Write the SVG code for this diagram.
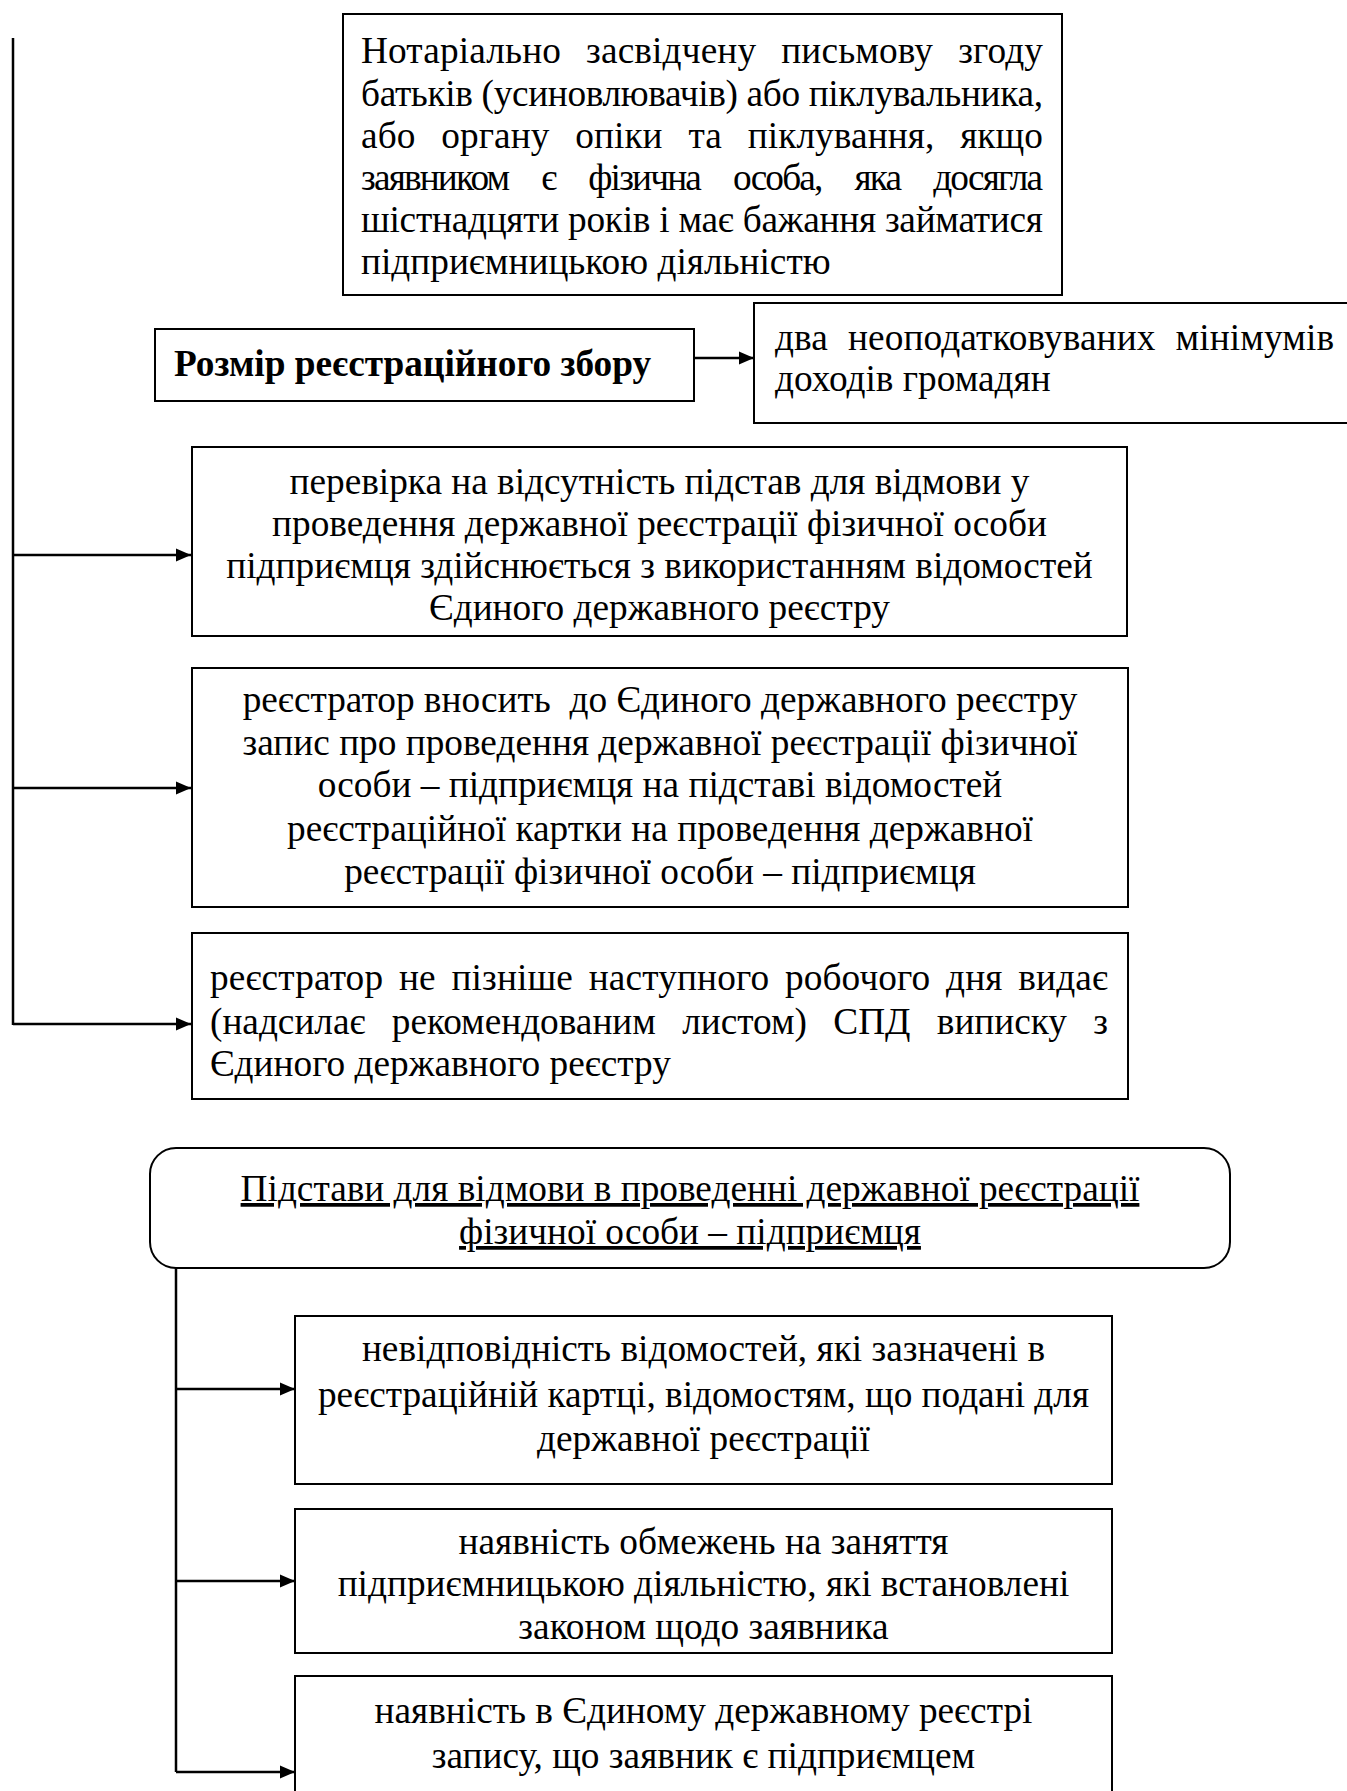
<svg xmlns="http://www.w3.org/2000/svg" width="1347" height="1791" viewBox="0 0 1347 1791">
<style>
.box{fill:#fff;stroke:#000;stroke-width:2}
.t{font-family:"Liberation Serif","Times New Roman",serif;font-size:37.3px;fill:#000}
.c{text-anchor:middle}
.b{font-weight:bold}
.u{text-decoration:underline}
.ln{fill:none;stroke:#000;stroke-width:2.5}
</style>
<defs>
<marker id="ah" markerUnits="userSpaceOnUse" markerWidth="16" markerHeight="14" refX="15" refY="7" orient="auto">
<path d="M0,0.5 L15,7 L0,13.5 Z" fill="#000"/>
</marker>
</defs>
<rect width="1347" height="1791" fill="#fff"/>
<g id="connectors">
<path class="ln" d="M13,38 V1025"/>
<path class="ln" d="M13,555 H191" marker-end="url(#ah)"/>
<path class="ln" d="M13,788 H191" marker-end="url(#ah)"/>
<path class="ln" d="M13,1024 H191" marker-end="url(#ah)"/>
<path class="ln" d="M694,358 H754" marker-end="url(#ah)"/>
<path class="ln" d="M176,1268 V1772"/>
<path class="ln" d="M176,1389 H295" marker-end="url(#ah)"/>
<path class="ln" d="M176,1581 H295" marker-end="url(#ah)"/>
<path class="ln" d="M176,1772 H295" marker-end="url(#ah)"/>
</g>
<g id="node-consent">
<rect class="box" x="343" y="14" width="719" height="281"/>
<text class="t" x="361" y="63" word-spacing="15.6" textLength="682" lengthAdjust="spacing">Нотаріально засвідчену письмову згоду</text>
<text class="t" x="361" y="106" textLength="682" lengthAdjust="spacing">батьків (усиновлювачів) або піклувальника,</text>
<text class="t" x="361" y="148" word-spacing="16.4" textLength="682" lengthAdjust="spacing">або органу опіки та піклування, якщо</text>
<text class="t" x="361" y="190" word-spacing="25.4" textLength="682" lengthAdjust="spacing">заявником є фізична особа, яка досягла</text>
<text class="t" x="361" y="232" textLength="682" lengthAdjust="spacing">шістнадцяти років і має бажання займатися</text>
<text class="t" x="361" y="274">підприємницькою діяльністю</text>
</g>
<g id="node-fee">
<rect class="box" x="155" y="329" width="539" height="72"/>
<text class="t b" x="174" y="376">Розмір реєстраційного збору</text>
</g>
<g id="node-fee-value">
<rect class="box" x="754" y="303" width="600" height="120"/>
<text class="t" x="775" y="350" word-spacing="10.5" textLength="559" lengthAdjust="spacing">два неоподатковуваних мінімумів</text>
<text class="t" x="775" y="391">доходів громадян</text>
</g>
<g id="node-check">
<rect class="box" x="192" y="447" width="935" height="189"/>
<text class="t c" x="659.5" y="494">перевірка на відсутність підстав для відмови у</text>
<text class="t c" x="659.5" y="536">проведення державної реєстрації фізичної особи</text>
<text class="t c" x="659.5" y="578">підприємця здійснюється з використанням відомостей</text>
<text class="t c" x="659.5" y="620">Єдиного державного реєстру</text>
</g>
<g id="node-record">
<rect class="box" x="192" y="668" width="936" height="239"/>
<text class="t c" x="660" y="712" style="white-space:pre">реєстратор вносить  до Єдиного державного реєстру</text>
<text class="t c" x="660" y="755">запис про проведення державної реєстрації фізичної</text>
<text class="t c" x="660" y="797">особи – підприємця на підставі відомостей</text>
<text class="t c" x="660" y="841">реєстраційної картки на проведення державної</text>
<text class="t c" x="660" y="884">реєстрації фізичної особи – підприємця</text>
</g>
<g id="node-extract">
<rect class="box" x="192" y="933" width="936" height="166"/>
<text class="t" x="210" y="990" word-spacing="6.3" textLength="898" lengthAdjust="spacing">реєстратор не пізніше наступного робочого дня видає</text>
<text class="t" x="210" y="1034" word-spacing="17" textLength="898" lengthAdjust="spacing">(надсилає рекомендованим листом) СПД виписку з</text>
<text class="t" x="210" y="1076">Єдиного державного реєстру</text>
</g>
<g id="node-refusal-title">
<rect class="box" x="150" y="1148" width="1080" height="120" rx="26" ry="26"/>
<text class="t c u" x="690" y="1201">Підстави для відмови в проведенні державної реєстрації</text>
<text class="t c u" x="690" y="1244">фізичної особи – підприємця</text>
</g>
<g id="node-mismatch">
<rect class="box" x="295" y="1316" width="817" height="168"/>
<text class="t c" x="703.5" y="1361">невідповідність відомостей, які зазначені в</text>
<text class="t c" x="703.5" y="1407">реєстраційній картці, відомостям, що подані для</text>
<text class="t c" x="703.5" y="1451">державної реєстрації</text>
</g>
<g id="node-restrictions">
<rect class="box" x="295" y="1509" width="817" height="144"/>
<text class="t c" x="703.5" y="1554">наявність обмежень на заняття</text>
<text class="t c" x="703.5" y="1596">підприємницькою діяльністю, які встановлені</text>
<text class="t c" x="703.5" y="1639">законом щодо заявника</text>
</g>
<g id="node-existing">
<rect class="box" x="295" y="1676" width="817" height="130"/>
<text class="t c" x="703.5" y="1723">наявність в Єдиному державному реєстрі</text>
<text class="t c" x="703.5" y="1768">запису, що заявник є підприємцем</text>
</g>
</svg>
